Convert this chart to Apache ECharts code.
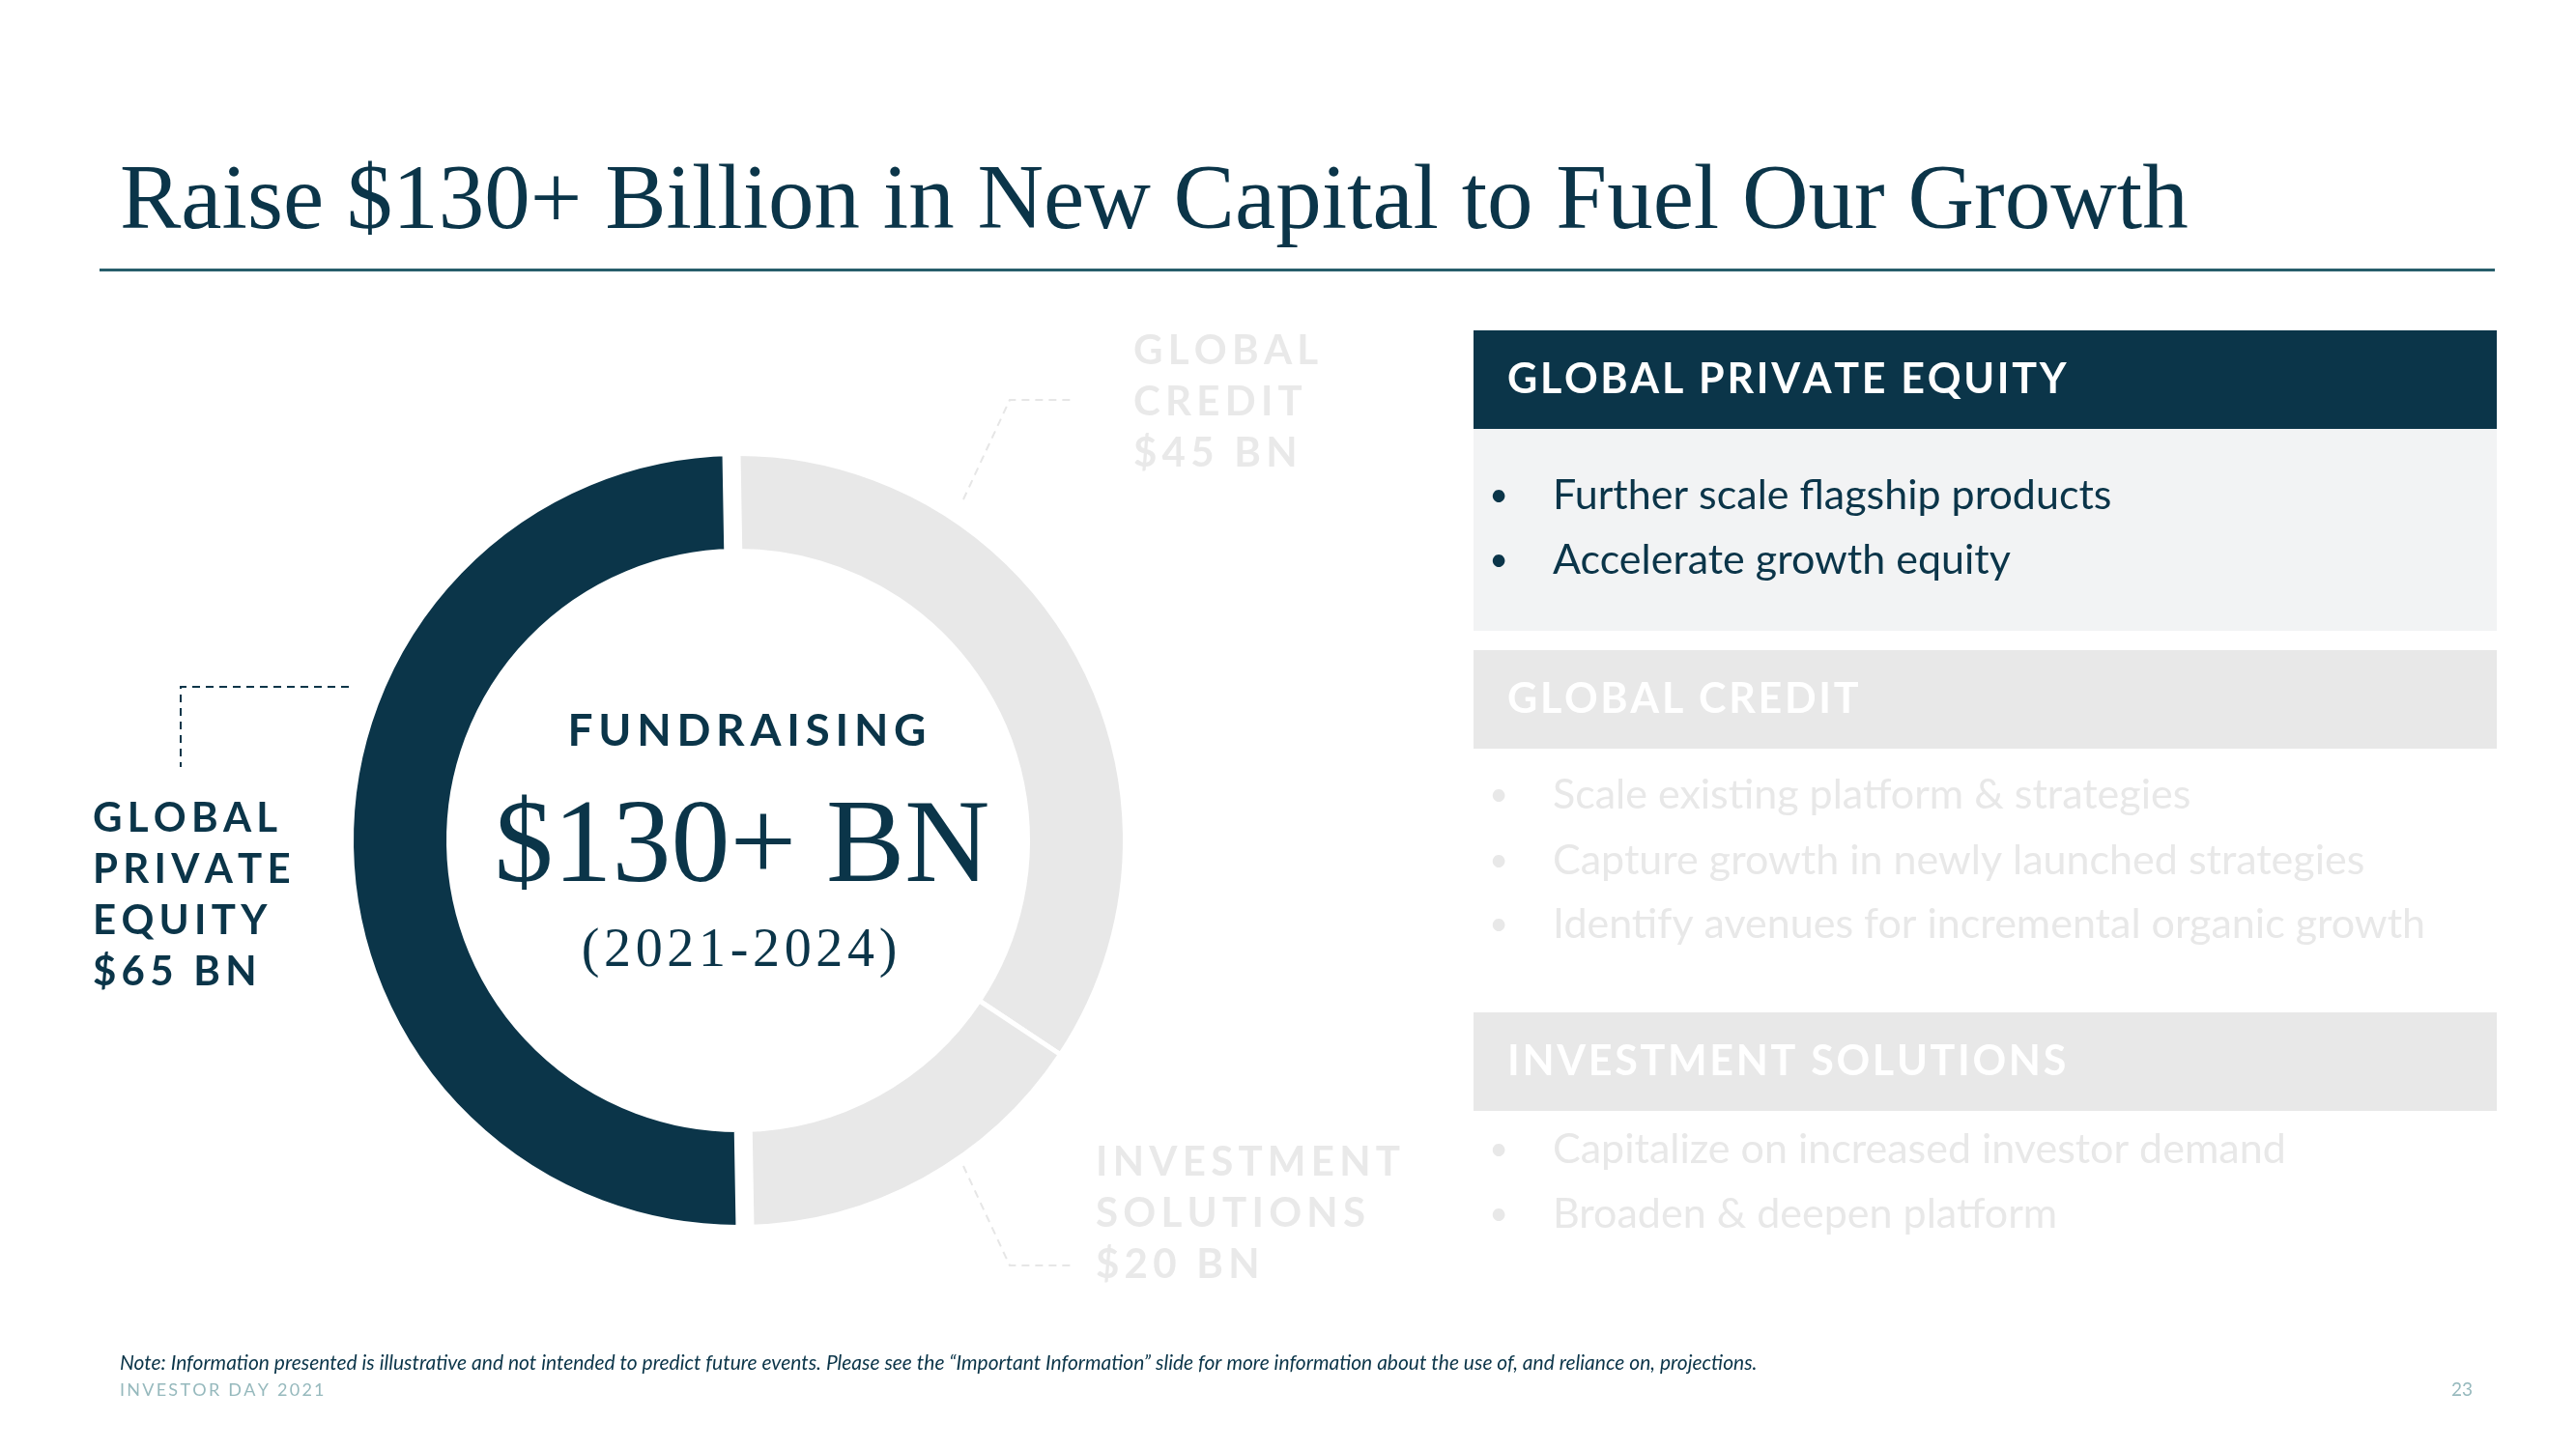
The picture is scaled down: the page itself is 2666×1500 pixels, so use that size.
<!DOCTYPE html>
<html>
<head>
<meta charset="utf-8">
<title>Raise $130+ Billion in New Capital to Fuel Our Growth</title>
<script src="https://cdn.jsdelivr.net/npm/echarts@6/dist/echarts.min.js"></script>
<style>
    html, body { margin: 0; padding: 0; background: #fff; }
    #chart { width: 2666px; height: 1500px; }
</style>
</head>
<body>
<div id="chart"></div>
<script>
// fundraising target by platform, $BN (2021-2024)
const platforms = ["GLOBAL CREDIT", "INVESTMENT SOLUTIONS", "GLOBAL PRIVATE EQUITY"];
const platformLines = [["GLOBAL", "CREDIT"], ["INVESTMENT", "SOLUTIONS"], ["GLOBAL", "PRIVATE", "EQUITY"]];
const targetBn = [45, 20, 65];
const focusIndex = 2; // private equity is the highlighted slice
const totalText = "$130+ BN";
const periodText = "(2021-2024)";

const panelTitles = ["GLOBAL PRIVATE EQUITY", "GLOBAL CREDIT", "INVESTMENT SOLUTIONS"];
const panelBullets = [
    ["Further scale flagship products", "Accelerate growth equity"],
    ["Scale existing platform & strategies", "Capture growth in newly launched strategies", "Identify avenues for incremental organic growth"],
    ["Capitalize on increased investor demand", "Broaden & deepen platform"]
];

const NAVY = "#0b3549";
const GREY = "#e8e8e8";
const FADED = "#e8e8e8";
const SANS = "Lato, 'Open Sans', sans-serif";
const SERIF = "'Liberation Serif', 'DejaVu Serif', serif";

// layout (pixels)
const pieCenter = [764, 870];
const ringR = [302, 398];
const labelPos = [[1173, 337], [1134, 1177], [96, 821]];
const leaderPoints = [
    [[997, 517], [1045, 414], [1108, 414]],
    [[997, 1207], [1045, 1310], [1108, 1310]],
    [[361, 711], [187, 711], [187, 794]]
];
const panelTop = [342, 673, 1048];
const panelBulletY = [[513, 580], [823, 891, 957], [1190, 1257]];

// poor man's letter-spacing: hair spaces between characters
function spaced(s, n) {
    return s.split("").join("\u200A".repeat(n || 2));
}

const chart = echarts.init(document.getElementById("chart"));

const graphics = [];
// title + rule
graphics.push({
    type: "text", left: 124, top: 164,
    style: { text: "Raise $130+ Billion in New Capital to Fuel Our Growth", font: "95px " + SERIF, fill: NAVY }
});
graphics.push({ type: "rect", shape: { x: 103, y: 278, width: 2479, height: 3 }, style: { fill: "#275e6b" } });

// centre of the donut
graphics.push({
    type: "text", x: pieCenter[0] + 9, y: 757,
    style: { text: spaced("FUNDRAISING"), font: "bold 46px " + SANS, fill: NAVY, align: "center", verticalAlign: "middle" }
});
graphics.push({
    type: "text", x: pieCenter[0] + 4, y: 880,
    style: { text: totalText, font: "122px " + SERIF, fill: NAVY, align: "center", verticalAlign: "middle" }
});
graphics.push({
    type: "text", x: pieCenter[0] + 1, y: 985,
    style: { text: spaced(periodText, 1), font: "56px " + SERIF, fill: NAVY, align: "center", verticalAlign: "middle" }
});

// right-hand panels
panelTitles.forEach((t, i) => {
    const top = panelTop[i];
    const on = i === 0;
    if (on) {
        graphics.push({ type: "rect", shape: { x: 1525, y: top + 102, width: 1059, height: 209 }, style: { fill: "#f2f3f4" } });
    }
    graphics.push({
        type: "rect", shape: { x: 1525, y: top, width: 1059, height: 102 },
        style: { fill: on ? NAVY : GREY }
    });
    graphics.push({
        type: "text", x: 1560, y: top + 51,
        style: { text: spaced(t, 1), font: "bold 43px " + SANS, fill: "#fff", verticalAlign: "middle" }
    });
    panelBullets[i].forEach((b, j) => {
        const y = panelBulletY[i][j];
        graphics.push({
            type: "text", x: 1551, y: y,
            style: { text: "\u2022", font: "34px " + SANS, fill: on ? NAVY : FADED, align: "center", verticalAlign: "middle" }
        });
        graphics.push({
            type: "text", x: 1607, y: y,
            style: { text: b, font: "43px " + SANS, fill: on ? NAVY : FADED, verticalAlign: "middle" }
        });
    });
});

// footer
graphics.push({
    type: "text", x: 124, y: 1411,
    style: {
        text: "Note: Information presented is illustrative and not intended to predict future events. Please see the \u201cImportant Information\u201d slide for more information about the use of, and reliance on, projections.",
        font: "italic 21px " + SANS, fill: NAVY, verticalAlign: "middle"
    }
});
graphics.push({
    type: "text", x: 124, y: 1439,
    style: { text: spaced("INVESTOR DAY 2021"), font: "18px " + SANS, fill: "#96b9bd", verticalAlign: "middle" }
});
graphics.push({
    type: "text", x: 2559, y: 1439,
    style: { text: "23", font: "19px " + SANS, fill: "#96b9bd", align: "right", verticalAlign: "middle" }
});

chart.setOption({
    backgroundColor: "#fff",
    animation: false,
    graphic: graphics,
    series: [
        {
            // grey ring + labels
            type: "pie",
            z: 1,
            silent: true,
            center: pieCenter,
            radius: [ringR[0] - 2.5, ringR[1] + 2.5],
            startAngle: 91,
            clockwise: true,
            avoidLabelOverlap: false,
            data: platforms.map((name, i) => ({
                name: name,
                value: targetBn[i],
                itemStyle: {
                    color: i === focusIndex ? "rgba(0,0,0,0)" : GREY,
                    borderColor: "#fff",
                    borderWidth: 5
                },
                label: { color: i === focusIndex ? NAVY : "#e9e9e9" },
                labelLine: { lineStyle: { color: i === focusIndex ? NAVY : "#e6e6e6" } }
            })),
            label: {
                show: true,
                position: "outside",
                fontFamily: SANS,
                fontWeight: "bold",
                fontSize: 42,
                lineHeight: 53,
                align: "left",
                formatter: p => platformLines[p.dataIndex].concat("$" + p.value + " BN").map(s => spaced(s)).join("\n")
            },
            labelLine: {
                show: true,
                lineStyle: { width: 2, type: [8, 6] }
            },
            labelLayout: p => ({
                x: labelPos[p.dataIndex][0],
                y: labelPos[p.dataIndex][1],
                align: "left",
                verticalAlign: "top",
                labelLinePoints: leaderPoints[p.dataIndex]
            })
        },
        {
            // highlighted slice with a wide white gap at its ends
            type: "pie",
            z: 2,
            silent: true,
            center: pieCenter,
            radius: [ringR[0] - 9.5, ringR[1] + 9.5],
            startAngle: 91,
            clockwise: true,
            label: { show: false },
            labelLine: { show: false },
            data: platforms.map((name, i) => ({
                name: name,
                value: targetBn[i],
                itemStyle: i === focusIndex
                    ? { color: NAVY, borderColor: "#fff", borderWidth: 19 }
                    : { color: "rgba(0,0,0,0)", borderWidth: 0 }
            }))
        }
    ]
});
</script>
</body>
</html>
